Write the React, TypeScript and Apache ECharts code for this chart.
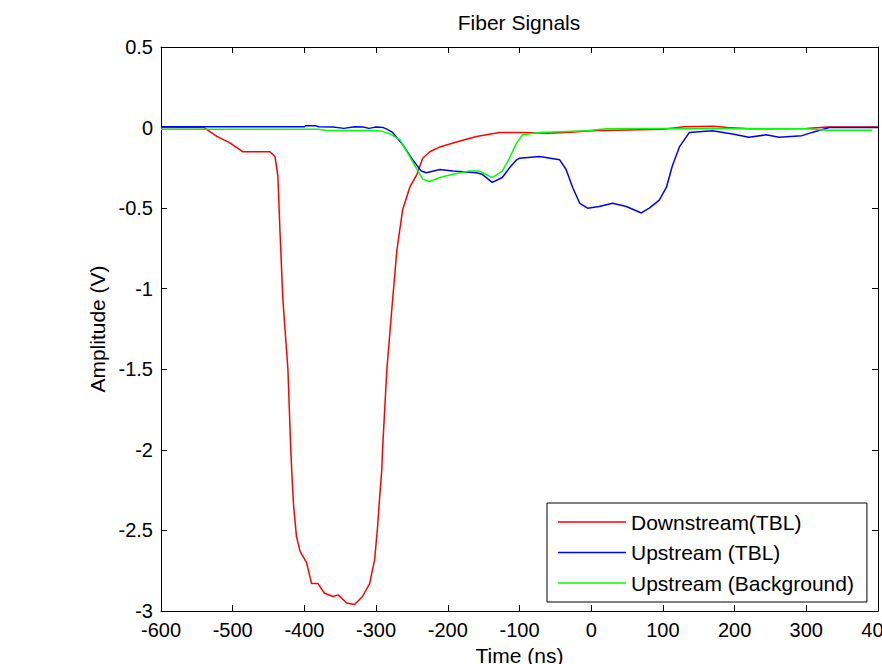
import React, { useEffect, useRef } from "react";
import * as echarts from "echarts";

const TITLE = "Fiber Signals";
const X_NAME = "Time (ns)";
const Y_NAME = "Amplitude (V)";
const SERIES_NAMES = ["Downstream(TBL)", "Upstream (TBL)", "Upstream (Background)"];
const COLORS = ["#ff0000", "#0000ff", "#00ff00"];

const redX = [-600, -540, -522, -504, -486, -470, -448, -441, -437, -434, -430, -423, -419, -417, -415, -411, -406, -397, -390, -381, -372, -360, -353, -341, -330, -319, -309, -302, -298, -295, -292, -291, -285, -277, -271, -263, -253, -243, -235, -225, -211, -188, -160, -128, -96, -60, -34, 0, 50, 100, 130, 170, 190, 220, 250, 300, 330, 400];
const redY = [0, 0, -0.055, -0.095, -0.15, -0.15, -0.15, -0.18, -0.3, -0.65, -1.07, -1.5, -2.0, -2.19, -2.35, -2.54, -2.63, -2.7, -2.83, -2.83, -2.89, -2.91, -2.9, -2.95, -2.96, -2.91, -2.83, -2.68, -2.48, -2.29, -2.12, -2.0, -1.5, -1.07, -0.76, -0.51, -0.37, -0.29, -0.19, -0.15, -0.12, -0.09, -0.056, -0.03, -0.03, -0.035, -0.03, -0.02, -0.015, -0.01, 0.005, 0.008, 0.0, -0.008, -0.008, -0.005, 0.003, 0.003];

const blueX = [-600, -400, -398, -385, -380, -360, -345, -330, -318, -310, -300, -290, -285, -277, -263, -249, -237, -230, -211, -193, -160, -152, -138, -124, -114, -104, -100, -72, -44, -35, -26, -16, -5, 11, 30, 49, 70, 81, 95, 105, 113, 123, 137, 169, 197, 220, 244, 262, 294, 308, 332, 400];
const blueY = [0.005, 0.005, 0.012, 0.012, 0.005, 0.003, -0.005, 0.005, 0.003, -0.005, 0.003, 0.0, -0.01, -0.03, -0.105, -0.2, -0.27, -0.28, -0.26, -0.27, -0.28, -0.29, -0.34, -0.31, -0.25, -0.2, -0.19, -0.18, -0.2, -0.26, -0.37, -0.47, -0.5, -0.49, -0.47, -0.49, -0.53, -0.5, -0.45, -0.37, -0.24, -0.12, -0.03, -0.02, -0.04, -0.06, -0.045, -0.06, -0.05, -0.03, 0.0, 0.0];

const greenX = [-600, -380, -370, -300, -290, -280, -267, -253, -243, -235, -225, -211, -193, -170, -156, -138, -124, -114, -104, -96, -72, -7, 21, 100, 200, 300, 330, 392];
const greenY = [-0.01, -0.01, -0.018, -0.018, -0.025, -0.04, -0.075, -0.18, -0.26, -0.32, -0.335, -0.31, -0.29, -0.27, -0.27, -0.31, -0.27, -0.19, -0.095, -0.045, -0.03, -0.02, -0.008, -0.006, -0.006, -0.008, -0.017, -0.017];

const X_MIN = -600;
const X_MAX = 400;
const X_STEP = 100;
const Y_MIN = -3;
const Y_MAX = 0.5;
const Y_STEP = 0.5;

const FONT = "'Liberation Sans', Arial, Helvetica, sans-serif";

function pairs(xs: number[], ys: number[]) {
  return xs.map((x, i) => [x, ys[i]]);
}

export default function App() {
  const ref = useRef<HTMLDivElement>(null);
  useEffect(() => {
    if (!ref.current) return;
    const chart = echarts.init(ref.current, null, { renderer: "svg" });
    const axisLine = { show: true, onZero: false, lineStyle: { color: "#000", width: 1 } };
    const axisTick = { show: true, inside: true, length: 6, lineStyle: { color: "#000", width: 1 } };
    const labelStyle = { fontSize: 20, color: "#000", fontFamily: FONT };
    const datasets = [pairs(redX, redY), pairs(blueX, blueY), pairs(greenX, greenY)];
    chart.setOption({
      animation: false,
      backgroundColor: "#fff",
      title: {
        text: TITLE,
        left: 519,
        top: 12,
        textAlign: "center",
        padding: 0,
        textStyle: { fontSize: 21, fontWeight: "normal", color: "#000", fontFamily: FONT },
      },
      grid: { left: 161, right: 4, top: 47, bottom: 53, containLabel: false, outerBoundsMode: "none" },
      xAxis: [
        {
          type: "value",
          min: X_MIN,
          max: X_MAX,
          interval: X_STEP,
          position: "bottom",
          axisLine,
          axisTick,
          axisLabel: { ...labelStyle, margin: 9 },
          splitLine: { show: false },
          name: X_NAME,
          nameLocation: "middle",
          nameGap: 33,
          nameTextStyle: { fontSize: 21, color: "#000", fontFamily: FONT },
        },
        {
          type: "value",
          min: X_MIN,
          max: X_MAX,
          interval: X_STEP,
          position: "top",
          axisLine,
          axisTick,
          axisLabel: { show: false },
          splitLine: { show: false },
        },
      ],
      yAxis: [
        {
          type: "value",
          min: Y_MIN,
          max: Y_MAX,
          interval: Y_STEP,
          position: "left",
          axisLine,
          axisTick,
          axisLabel: { ...labelStyle, margin: 8 },
          splitLine: { show: false },
          name: Y_NAME,
          nameLocation: "middle",
          nameGap: 52,
          nameTextStyle: { fontSize: 21, color: "#000", fontFamily: FONT },
        },
        {
          type: "value",
          min: Y_MIN,
          max: Y_MAX,
          interval: Y_STEP,
          position: "right",
          axisLine,
          axisTick,
          axisLabel: { show: false },
          splitLine: { show: false },
        },
      ],
      legend: {
        orient: "vertical",
        left: 547,
        top: 503,
        padding: [8, 13, 8, 11],
        itemGap: 8.5,
        itemWidth: 68,
        itemHeight: 1.5,
        icon: "rect",
        borderColor: "#000",
        borderWidth: 1,
        backgroundColor: "#fff",
        textStyle: { fontSize: 21, color: "#000", fontFamily: FONT, lineHeight: 22 },
        data: SERIES_NAMES,
      },
      series: SERIES_NAMES.map((name, i) => ({
        name,
        type: "line",
        xAxisIndex: 0,
        yAxisIndex: 0,
        symbol: "none",
        showSymbol: false,
        color: COLORS[i],
        itemStyle: { color: COLORS[i] },
        lineStyle: { color: COLORS[i], width: 1.5 },
        data: datasets[i],
      })),
    });
    return () => chart.dispose();
  }, []);
  return (
    <div
      ref={ref}
      style={{ position: "fixed", left: 0, top: 0, width: 882, height: 664, background: "#fff" }}
    />
  );
}
